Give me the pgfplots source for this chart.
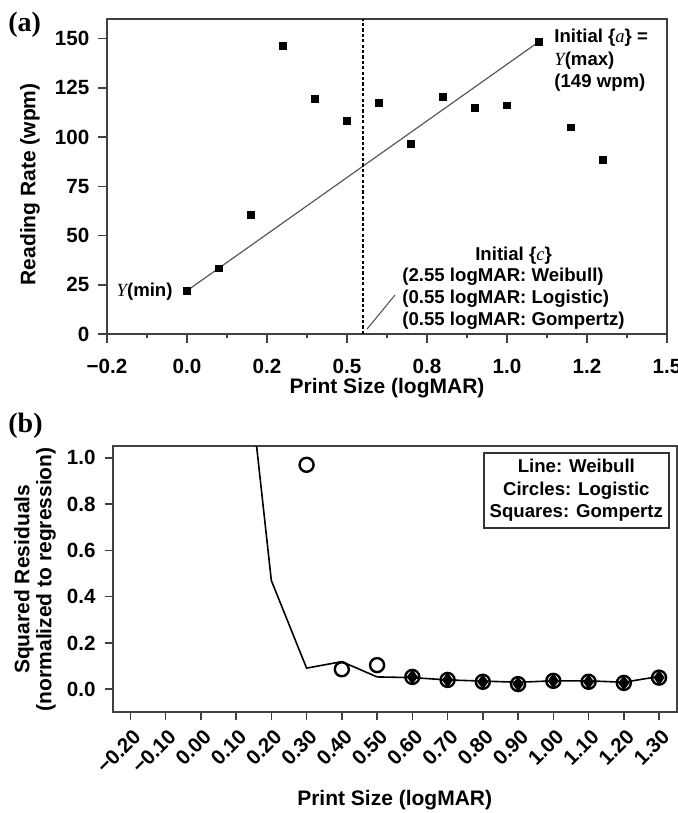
\documentclass[border=0pt]{standalone}
\usepackage{fontspec}
\setmainfont{Liberation Sans}
\newfontfamily\serif{Liberation Serif}
\usepackage{pgfplots}
\pgfplotsset{compat=1.18}
\begin{document}
\begin{tikzpicture}[font=\bfseries]
\useasboundingbox (0,0) rectangle (339pt,-406.5pt);
\node[anchor=base west, inner sep=0pt, font=\serif\bfseries\fontsize{14}{16}\selectfont] at (4pt,-16pt) {(a)};
\node[anchor=base west, inner sep=0pt, font=\serif\bfseries\fontsize{14}{16}\selectfont] at (4pt,-216pt) {(b)};
\begin{axis}[
 at={(53.5pt,-167pt)}, anchor=south west,
 scale only axis, width=280pt, height=157.5pt,
 xmin=-0.25, xmax=1.5, ymin=0, ymax=160,
 xtick={-0.25,0,0.25,0.5,0.75,1,1.25,1.5},
 xticklabels={−0.2,0.0,0.2,0.5,0.8,1.0,1.2,1.5},
 minor x tick num=1,
 ytick={0,25,50,75,100,125,150},
 tick align=outside, tick pos=left,
 major tick length=4.3pt, minor tick length=2.2pt,
 axis line style={line width=0.9pt, black!75},
 every tick/.style={line width=0.8pt, black!75},
 /pgf/number format/assume math mode=true,
 tick label style={font=\bfseries\fontsize{10.3}{12}\selectfont},
 xticklabel style={yshift=-4.6pt},
 yticklabel style={xshift=-1pt},
 xlabel={Print Size (logMAR)}, ylabel={Reading Rate (wpm)},
 label style={font=\bfseries\fontsize{10.5}{12}\selectfont},
 xlabel style={at={(axis description cs:0.5,-0.172)}, anchor=center},
 ylabel style={at={(axis description cs:-0.1375,0.475)}, anchor=center},
 clip=false,
]
\addplot[black!65, line width=0.6pt] coordinates {(0,22) (1.1,148.5)};
\addplot[black, dashed, dash pattern=on 1.6pt off 1.1pt, line width=0.8pt] coordinates {(0.55,0) (0.55,160)};
\addplot[black!70, line width=0.5pt] coordinates {(0.5625,2.5) (0.65,19.8)};
\addplot[only marks, mark=square*, mark size=1.7pt, black] coordinates {
 (0,22) (0.1,33.3) (0.2,60.3) (0.3,146.5) (0.4,119.5) (0.5,108.1) (0.6,117.4)
 (0.7,96.7) (0.8,120.6) (0.9,114.9) (1.0,116.1) (1.1,148.5) (1.2,104.9) (1.3,88.5)};
\node[anchor=east, inner sep=0pt, font=\bfseries\fontsize{9.3}{11}\selectfont] at (axis cs:-0.044,21.5) {{\serif\mdseries\itshape Y}(min)};
\node[anchor=north west, inner sep=0pt, align=left, font=\bfseries\fontsize{9.3}{11.2}\selectfont] at (axis cs:1.147,155) {Initial \{{\serif\mdseries\itshape a}\} =\\{\serif\mdseries\itshape Y}(max)\\(149 wpm)};
\node[anchor=north west, inner sep=0pt, font=\bfseries\fontsize{9.3}{10.9}\selectfont] at (axis cs:0.672,45.5) {\begin{tabular}{@{}l@{}}\multicolumn{1}{@{}c@{}}{Initial \{{\serif\mdseries\itshape c}\}}\\(2.55 logMAR: Weibull)\\(0.55 logMAR: Logistic)\\(0.55 logMAR: Gompertz)\end{tabular}};
\end{axis}
\begin{axis}[
 at={(56.35pt,-356.15pt)}, anchor=south west,
 scale only axis, width=282pt, height=133pt,
 xmin=-0.25, xmax=1.35, ymin=-0.1, ymax=1.05,
 xtick={-0.2,-0.1,0,0.1,0.2,0.3,0.4,0.5,0.6,0.7,0.8,0.9,1.0,1.1,1.2,1.3},
 xticklabels={−0.20,−0.10,0.00,0.10,0.20,0.30,0.40,0.50,0.60,0.70,0.80,0.90,1.00,1.10,1.20,1.30},
 ytick={0,0.2,0.4,0.6,0.8,1.0},
 yticklabels={0.0,0.2,0.4,0.6,0.8,1.0},
 tick align=outside, tick pos=left,
 major tick length=4pt,
 axis line style={line width=0.9pt, black!75},
 every tick/.style={line width=0.8pt, black!75},
 /pgf/number format/assume math mode=true,
 tick label style={font=\bfseries\fontsize{10.3}{12}\selectfont},
 xticklabel style={rotate=45, anchor=north east, inner sep=2pt, yshift=-1pt},
 yticklabel style={xshift=-1pt},
 xlabel={Print Size (logMAR)},
 ylabel={Squared Residuals\\(normalized to regression)},
 label style={font=\bfseries\fontsize{10.5}{11}\selectfont},
 xlabel style={at={(axis description cs:0.5,-0.33)}, anchor=center},
 ylabel style={at={(axis description cs:-0.138,0.5)}, anchor=center, align=center},
]
\addplot[black, line width=0.8pt] coordinates {
 (0.1,1.86) (0.2,0.47) (0.3,0.091) (0.4,0.119) (0.5,0.053) (0.6,0.05) (0.7,0.04)
 (0.8,0.035) (0.9,0.03) (1.0,0.036) (1.1,0.036) (1.2,0.03) (1.3,0.055)};
\addplot[only marks, mark=diamond*, mark size=3.4pt, black] coordinates {
 (0.6,0.053) (0.7,0.04) (0.8,0.032) (0.9,0.022) (1.0,0.036) (1.1,0.032) (1.2,0.027) (1.3,0.05)};
\addplot[only marks, mark=o, mark size=3.5pt, black, mark options={line width=1.2pt}] coordinates {
 (0.3,0.97) (0.4,0.086) (0.5,0.104) (0.6,0.053) (0.7,0.04) (0.8,0.032) (0.9,0.022)
 (1.0,0.036) (1.1,0.032) (1.2,0.027) (1.3,0.05)};
\node[draw=black!80, line width=0.7pt, minimum width=92.5pt, minimum height=37.5pt, inner sep=0pt, align=center, font=\bfseries\fontsize{9.3}{11.2}\selectfont] at (axis description cs:0.822,0.834) {Line: Weibull\\Circles: Logistic\\Squares: Gompertz};
\end{axis}
\end{tikzpicture}
\end{document}
